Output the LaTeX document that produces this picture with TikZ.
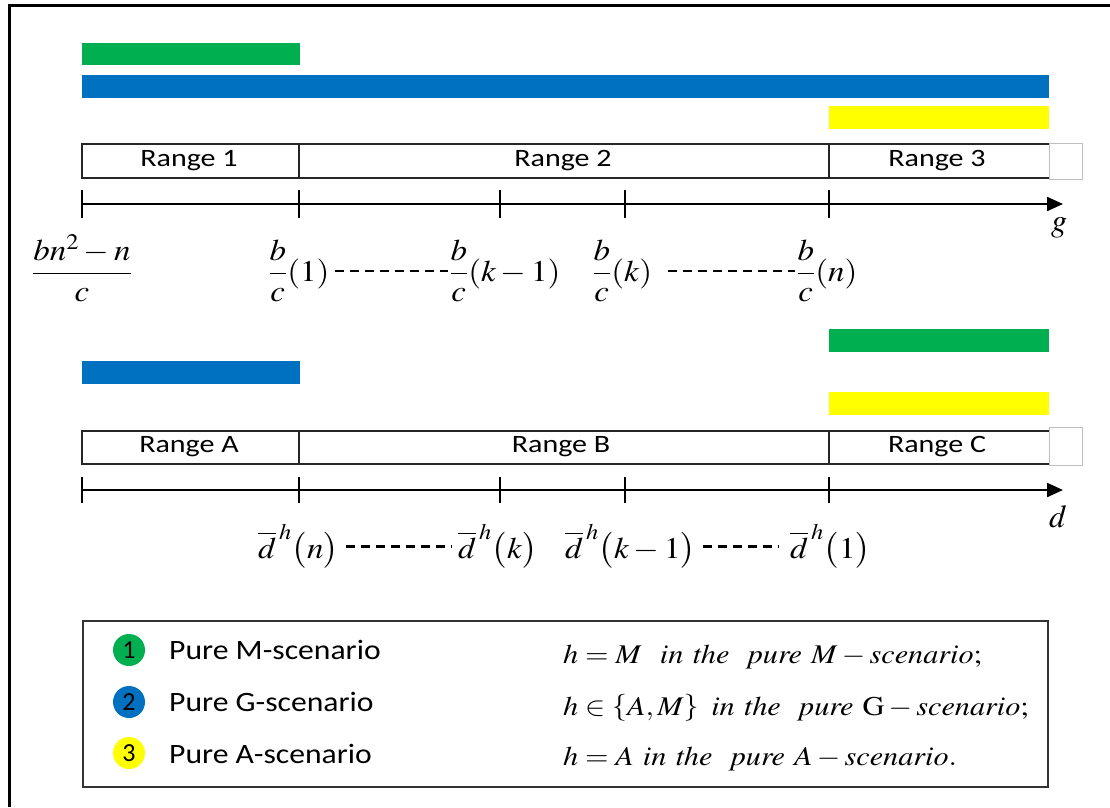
\documentclass[tikz,border=0pt]{standalone}
\usepackage{amsmath}
\usepackage{mathptmx}
\usepackage[no-math]{fontspec}
\newfontfamily\calibri{Carlito}
\usetikzlibrary{arrows.meta}
\definecolor{mgreen}{HTML}{00B050}
\definecolor{gblue}{HTML}{0070C0}
\definecolor{ayellow}{HTML}{FFFF00}
\begin{document}
\begin{tikzpicture}[x=1pt,y=-1pt,
  cellline/.style={line width=1.2pt, black!85},
  ghost/.style={line width=0.8pt, black!25},
  rangetxt/.style={font=\calibri\fontsize{25}{28}\selectfont, xscale=1.2, inner sep=0pt},
  axisline/.style={line width=2.2pt, -{Triangle[length=16pt,width=14pt]}},
  tickmark/.style={line width=2pt},
  dashrun/.style={line width=2.4pt, dash pattern=on 9pt off 6pt},
  mlabel/.style={font=\fontsize{30}{36}\selectfont, xscale=1.1, inner sep=0pt},
  axname/.style={font=\fontsize{32}{36}\selectfont, inner sep=0pt},
  legtxt/.style={font=\calibri\fontsize{28}{30}\selectfont, xscale=1.13, inner sep=0pt, anchor=base west},
  legmath/.style={font=\fontsize{27}{30}\selectfont, xscale=1.12, inner sep=0pt, anchor=base west},
  badge/.style={circle, minimum size=32pt, inner sep=0pt, font=\calibri\fontsize{26}{30}\selectfont}
]
\useasboundingbox (0,0) rectangle (1110,807);

% frame (top and left edges)
\draw[line width=3pt] (9,807) -- (9,5) -- (1110,5);

% ---------- upper panel: g axis ----------
\fill[mgreen]  (82,43)  rectangle (300,65);
\fill[gblue]   (82,75)  rectangle (1049,98);
\fill[ayellow] (829,106) rectangle (1049,129);

\draw[cellline] (1049,144) -- (82,144) -- (82,178) -- (1049,178);
\draw[cellline] (299,144) -- (299,178);
\draw[cellline] (829,144) -- (829,178);
\draw[ghost] (1049,143) rectangle (1082,179);
\node[rangetxt] (r1) at (189,161) {Range 1};
\node[rangetxt] (r2) at (563,161) {Range 2};
\node[rangetxt] (r3) at (937,161) {Range 3};

\coordinate (g0) at (82,204);
\coordinate (gend) at (1063,204);
\draw[axisline] (g0) -- (gend);
\foreach \t in {82,299,500,625,829} \draw[tickmark] (\t,190) -- (\t,218);
\node[axname, anchor=base] (gname) at (1059,231) {$g$};

\node[mlabel, anchor=base] (L0) at (82,281) {$\dfrac{bn^2-n}{c}$};
\node[mlabel, anchor=base west] (L1) at (268,281) {$\dfrac{b}{c}(1)$};
\node[mlabel, anchor=base west] (L2) at (449,281) {$\dfrac{b}{c}(k-1)$};
\node[mlabel, anchor=base west] (L3) at (592,281) {$\dfrac{b}{c}(k)$};
\node[mlabel, anchor=base west] (L4) at (796,281) {$\dfrac{b}{c}(n)$};
\draw[dashrun] ([xshift=5pt]L1.east) -- ([xshift=-1pt]L2.west);
\draw[dashrun] ([xshift=16pt]L3.east) -- ([xshift=-1pt]L4.west);

% ---------- lower panel: d axis ----------
\fill[mgreen]  (829,329) rectangle (1049,352);
\fill[gblue]   (82,361)  rectangle (300,384);
\fill[ayellow] (829,392) rectangle (1049,415);

\draw[cellline] (1049,431) -- (82,431) -- (82,464) -- (1049,464);
\draw[cellline] (299,431) -- (299,464);
\draw[cellline] (829,431) -- (829,464);
\draw[ghost] (1049,427) rectangle (1082,465);
\node[rangetxt] (ra) at (189,447) {Range A};
\node[rangetxt] (rb) at (561,447) {Range B};
\node[rangetxt] (rc) at (937,447) {Range C};

\coordinate (d0) at (82,490);
\coordinate (dend) at (1063,490);
\draw[axisline] (d0) -- (dend);
\foreach \t in {82,299,500,625,829} \draw[tickmark] (\t,477) -- (\t,503);
\node[axname, anchor=base] (dname) at (1058,527) {$d$};

\node[mlabel, anchor=base west] (D1) at (258,558) {$\overline{d}^{\,h}\big(n\big)$};
\node[mlabel, anchor=base west] (D2) at (458,558) {$\overline{d}^{\,h}\big(k\big)$};
\node[mlabel, anchor=base west] (D3) at (565,558) {$\overline{d}^{\,h}\big(k-1\big)$};
\node[mlabel, anchor=base west] (D4) at (790,558) {$\overline{d}^{\,h}\big(1\big)$};
\draw[dashrun] ([xshift=7pt]D1.east) -- ([xshift=-6pt]D2.west);
\draw[dashrun] ([xshift=7pt]D3.east) -- ([xshift=-12pt]D4.west);

% ---------- legend ----------
\draw[line width=1.2pt, black!80] (83,621) rectangle (1048,787);
\node[badge, fill=mgreen]  (b1) at (129,650) {1};
\node[badge, fill=gblue]   (b2) at (129,702) {2};
\node[badge, fill=ayellow] (b3) at (129,753) {3};
\node[legtxt] (t1) at (169,659) {Pure M-scenario};
\node[legtxt] (t2) at (169,711) {Pure G-scenario};
\node[legtxt] (t3) at (169,763) {Pure A-scenario};
\node[legmath] (m1) at (563,663) {$h=M\ \ \mathit{in\ the}\ \ \mathit{pure}\ M-\mathit{scenario};$};
\node[legmath] (m2) at (563,715) {$h\in\left\{A,M\right\}\ \mathit{in\ the}\ \ \mathit{pure}\ \mathrm{G}-\mathit{scenario};$};
\node[legmath] (m3) at (563,765) {$h=A\ \mathit{in\ the}\ \ \mathit{pure}\ A-\mathit{scenario.}$};
\end{tikzpicture}
\end{document}
